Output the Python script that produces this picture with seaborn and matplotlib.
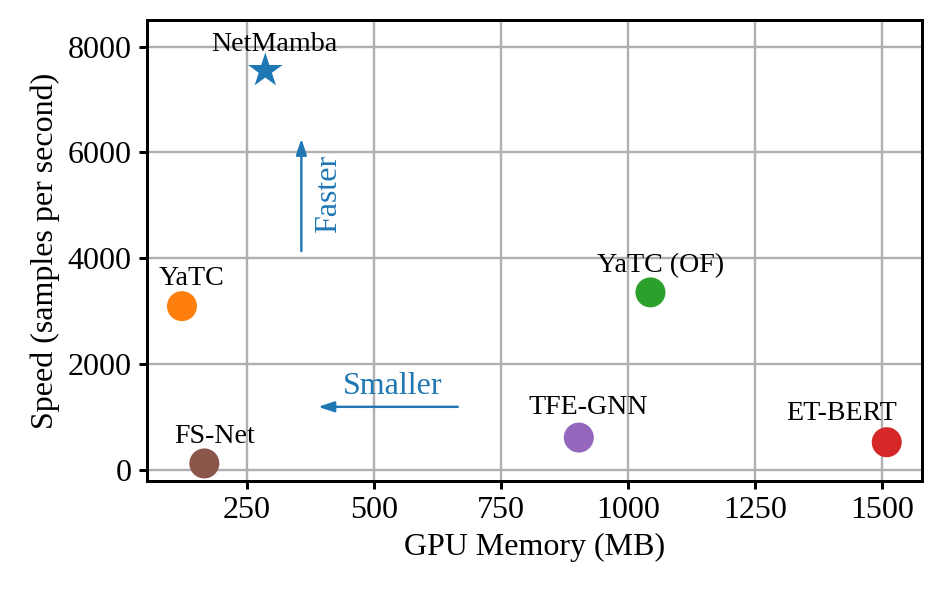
import matplotlib
matplotlib.use('Agg')
import pandas as pd
import seaborn as sns
import matplotlib.pyplot as plt


# values
models = ['NetMamba', 'YaTC', 'YaTC (OF)', 'ET-BERT', 'TFE-GNN', 'FS-Net']
gpu_memory = [286, 122, 1044, 1509, 903, 166]
speed = [7545, 3100, 3360, 532, 620, 132]

# label offsets in pixels from each point
label_dx = [9, 10, 10, -45, 9, 10]
label_dy = [26, 28, 27, 29, 30, 27]

# hint arrows (data coords)
faster_x = 357
faster_from = 4140
faster_to = 6260
smaller_y = 1200
smaller_from = 665
smaller_to = 390


df = pd.DataFrame({'model': models, 'mem': gpu_memory, 'speed': speed})

sns.set_style('ticks')
plt.rcParams['font.family'] = ['Liberation Serif', 'DejaVu Serif']
plt.rcParams['font.size'] = 16
plt.rcParams['text.color'] = 'black'
plt.rcParams['axes.labelcolor'] = 'black'

fig = plt.figure(figsize=(943 / 144, 594 / 144), dpi=144)
ax = fig.add_axes([0.1556, 0.1902, 0.8221, 0.7761])

markers = {m: ('*' if m == 'NetMamba' else 'o') for m in models}
sizes = {m: (330 if m == 'NetMamba' else 225) for m in models}
sns.scatterplot(data=df, x='mem', y='speed', hue='model', style='model',
                size='model', sizes=sizes,
                hue_order=models, palette='tab10', markers=markers,
                linewidth=0, legend=False, ax=ax, zorder=3)

for name, x, y, dx, dy in zip(models, gpu_memory, speed, label_dx, label_dy):
    ax.annotate(name, (x, y), xytext=(dx, dy), textcoords='offset pixels',
                ha='center', va='center', fontsize=14, color='black')

blue = '#1f77b4'
ax.annotate('', xy=(faster_x, faster_to), xytext=(faster_x, faster_from),
            arrowprops=dict(arrowstyle='-|>,head_length=0.6,head_width=0.2',
                            color=blue, lw=1.2, shrinkA=0, shrinkB=0,
                            mutation_scale=11))
ax.annotate('', xy=(smaller_to, smaller_y), xytext=(smaller_from, smaller_y),
            arrowprops=dict(arrowstyle='-|>,head_length=0.6,head_width=0.2',
                            color=blue, lw=1.2, shrinkA=0, shrinkB=0,
                            mutation_scale=11))
ax.text(411, 5210, 'Faster', rotation=90, color=blue, fontsize=16,
        ha='center', va='center')
ax.text(536, 1585, 'Smaller', color=blue, fontsize=16, ha='center', va='center')

ax.set_ylim(-200, 8500)
ax.set_xticks([250, 500, 750, 1000, 1250, 1500])
ax.set_yticks([0, 2000, 4000, 6000, 8000])
ax.grid(True, color='#b0b0b0', linewidth=1.2)
ax.set_axisbelow(True)
for sp in ax.spines.values():
    sp.set_color('black')
    sp.set_linewidth(1.5)
ax.tick_params(direction='out', length=4, width=1.5, colors='black', labelsize=16)
ax.set_xlabel('GPU Memory (MB)', fontsize=16)
ax.set_ylabel('Speed (samples per second)', fontsize=16)

fig.savefig('out.png', dpi=144)
